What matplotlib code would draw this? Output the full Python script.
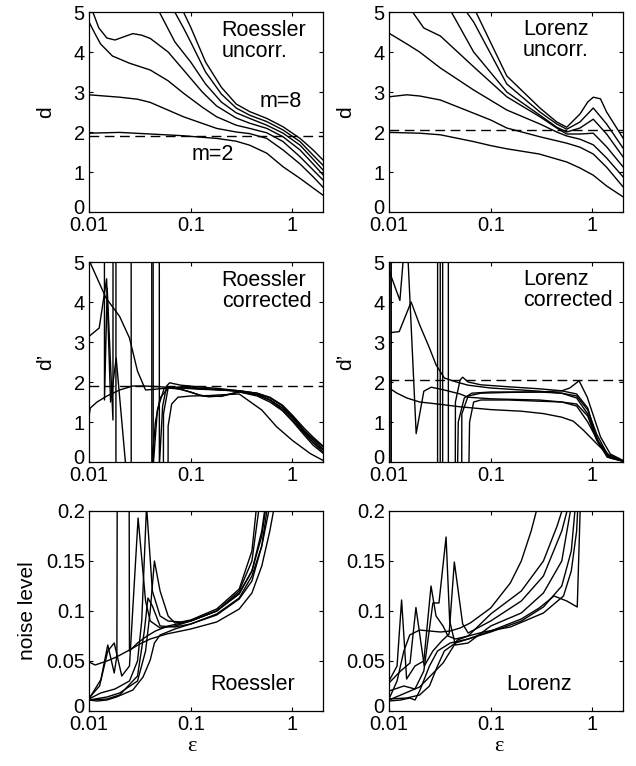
import matplotlib
matplotlib.use("Agg")
import matplotlib.pyplot as plt
from matplotlib.ticker import NullLocator
from matplotlib.transforms import ScaledTranslation

plt.rcParams['font.family'] = ['Liberation Sans', 'DejaVu Sans']

# -----------------------------
# data (eps, value) per curve
# -----------------------------
# Roessler, uncorrected d(eps), m=2..8
ru_m2_x = [0.01, 0.02, 0.04, 0.08, 0.18, 0.28, 0.38, 0.56, 0.81, 1.19, 1.6, 2.0]
ru_m2_y = [1.97, 1.99, 1.95, 1.91, 1.84, 1.77, 1.67, 1.47, 1.13, 0.84, 0.6, 0.42]
ru_m3_x = [0.01, 0.02, 0.03, 0.04, 0.085, 0.18, 0.28, 0.38, 0.56, 0.81, 1.19, 1.6, 2.0]
ru_m3_y = [2.93, 2.87, 2.82, 2.74, 2.38, 2.09, 2.0, 1.96, 1.84, 1.55, 1.2, 0.88, 0.62]
ru_m4_x = [0.01, 0.0115, 0.013, 0.017, 0.025, 0.04, 0.06, 0.085, 0.13, 0.18, 0.28, 0.38, 0.56, 0.81, 1.19, 1.6, 2.0]
ru_m4_y = [4.75, 4.45, 4.2, 3.9, 3.72, 3.55, 3.28, 2.97, 2.62, 2.38, 2.17, 2.09, 1.98, 1.76, 1.38, 1.05, 0.8]
ru_m5_x = [0.0109, 0.0125, 0.015, 0.018, 0.022, 0.027, 0.033, 0.04, 0.06, 0.085, 0.13, 0.18, 0.28, 0.38, 0.56, 0.81, 1.19, 1.6, 2.0]
ru_m5_y = [5.0, 4.6, 4.35, 4.3, 4.38, 4.46, 4.42, 4.34, 4.0, 3.55, 3.0, 2.65, 2.35, 2.22, 2.09, 1.88, 1.55, 1.2, 0.93]
ru_m6_x = [0.048, 0.07, 0.1, 0.14, 0.2, 0.28, 0.38, 0.56, 0.81, 1.19, 1.6, 2.0]
ru_m6_y = [5.05, 4.25, 3.75, 3.2, 2.75, 2.48, 2.34, 2.17, 1.97, 1.67, 1.32, 1.05]
ru_m7_x = [0.068, 0.085, 0.1, 0.14, 0.2, 0.28, 0.38, 0.56, 0.81, 1.19, 1.6, 2.0]
ru_m7_y = [5.05, 4.6, 4.25, 3.5, 2.95, 2.6, 2.42, 2.26, 2.05, 1.76, 1.42, 1.17]
ru_m8_x = [0.083, 0.1, 0.14, 0.2, 0.28, 0.38, 0.56, 0.81, 1.19, 1.6, 2.0]
ru_m8_y = [5.05, 4.62, 3.75, 3.12, 2.7, 2.51, 2.34, 2.13, 1.84, 1.55, 1.3]

# Lorenz, uncorrected d(eps), m=2..8
lu_m2_x = [0.01, 0.02, 0.032, 0.068, 0.1, 0.144, 0.3, 0.56, 0.755, 1.02, 1.38, 2.0]
lu_m2_y = [1.99, 1.97, 1.93, 1.76, 1.66, 1.58, 1.45, 1.25, 1.1, 0.92, 0.65, 0.38]
lu_m3_x = [0.01, 0.015, 0.02, 0.032, 0.068, 0.1, 0.144, 0.305, 0.56, 0.755, 1.02, 1.38, 2.0]
lu_m3_y = [2.88, 2.93, 2.9, 2.8, 2.47, 2.3, 2.1, 1.88, 1.72, 1.62, 1.45, 1.12, 0.63]
lu_m4_x = [0.01, 0.015, 0.02, 0.032, 0.068, 0.144, 0.305, 0.446, 0.56, 0.755, 1.02, 1.38, 2.0]
lu_m4_y = [4.47, 4.2, 4.0, 3.6, 3.05, 2.55, 2.2, 2.0, 1.9, 1.82, 1.68, 1.35, 0.88]
lu_m5_x = [0.0165, 0.022, 0.032, 0.068, 0.144, 0.305, 0.446, 0.56, 0.755, 1.02, 1.38, 2.0]
lu_m5_y = [5.05, 4.6, 4.4, 3.63, 2.88, 2.38, 2.1, 1.95, 1.95, 1.97, 1.63, 1.13]
lu_m6_x = [0.04, 0.068, 0.144, 0.305, 0.446, 0.56, 0.755, 1.02, 1.38, 2.0]
lu_m6_y = [5.05, 4.0, 3.0, 2.42, 2.12, 2.0, 2.1, 2.32, 1.95, 1.38]
lu_m7_x = [0.056, 0.068, 0.144, 0.305, 0.446, 0.56, 0.755, 1.02, 1.38, 2.0]
lu_m7_y = [5.05, 4.75, 3.2, 2.5, 2.2, 2.07, 2.25, 2.6, 2.2, 1.6]
lu_m8_x = [0.07, 0.144, 0.305, 0.446, 0.56, 0.755, 0.9, 1.02, 1.2, 1.38, 2.0]
lu_m8_y = [5.05, 3.4, 2.6, 2.25, 2.12, 2.45, 2.75, 2.87, 2.83, 2.5, 1.85]

# Roessler, corrected d'(eps)  (+-60 = off scale)
rc_1_x = [0.01, 0.0103, 0.012, 0.015, 0.02, 0.027, 0.035, 0.05, 0.08, 0.12, 0.2, 0.3, 0.45, 0.6, 0.8, 1.0, 1.3, 1.6, 2.0]
rc_1_y = [1.15, 1.35, 1.5, 1.65, 1.8, 1.9, 1.9, 1.88, 1.85, 1.82, 1.8, 1.78, 1.7, 1.55, 1.3, 1.05, 0.72, 0.48, 0.25]
rc_2_x = [0.01, 0.0147, 0.02, 0.025, 0.03, 0.036, 0.045, 0.06, 0.09, 0.13, 0.2, 0.3, 0.45, 0.6, 0.8, 1.0, 1.3, 1.6, 2.0]
rc_2_y = [5.05, 4.1, 3.64, 3.1, 2.27, 1.8, 1.82, 1.85, 1.85, 1.83, 1.8, 1.78, 1.72, 1.6, 1.4, 1.15, 0.8, 0.58, 0.38]
rc_3_x = [0.01, 0.0126, 0.0149, 0.0163, 0.0185, 0.0228, 0.0232, 0.05, 0.054, 0.06, 0.08, 0.12, 0.2, 0.3, 0.45, 0.6, 0.8, 1.0, 1.3, 1.6, 2.0]
rc_3_y = [3.14, 3.35, 4.58, 1.5, 2.6, 0.0, -60, -60, 1.2, 1.85, 1.88, 1.85, 1.8, 1.76, 1.68, 1.55, 1.35, 1.1, 0.75, 0.5, 0.3]
rc_4_x = [0.01, 0.0139, 0.0142, 0.0151, 0.0172, 0.0176, 0.0258, 0.0262, 0.056, 0.06, 0.065, 0.075, 0.1, 0.15, 0.2, 0.3, 0.5, 0.7, 1.0, 1.5, 2.0]
rc_4_y = [60, 60, 1.55, 4.35, 1.05, 60, 60, -60, -60, 0.9, 1.45, 1.62, 1.65, 1.66, 1.68, 1.7, 1.3, 0.88, 0.54, 0.21, 0.04]
rc_5_x = [0.01, 0.0183, 0.0185, 0.0405, 0.0415, 0.045, 0.05, 0.06, 0.08, 0.12, 0.15, 0.2, 0.3, 0.45, 0.6, 0.8, 1.0, 1.3, 1.6, 2.0]
rc_5_y = [-60, -60, 60, 60, -0.1, 1.0, 1.6, 1.85, 1.82, 1.68, 1.63, 1.65, 1.75, 1.65, 1.5, 1.28, 1.02, 0.68, 0.42, 0.22]
rc_6_x = [0.01, 0.042, 0.0428, 0.047, 0.055, 0.07, 0.1, 0.13, 0.2, 0.3, 0.45, 0.6, 0.8, 1.0, 1.3, 1.6, 2.0]
rc_6_y = [60, 60, -0.1, 1.3, 1.85, 1.85, 1.75, 1.65, 1.64, 1.76, 1.68, 1.55, 1.35, 1.12, 0.78, 0.55, 0.33]
rc_7_x = [0.01, 0.0485, 0.0492, 0.053, 0.058, 0.062, 0.08, 0.12, 0.2, 0.3, 0.45, 0.6, 0.8, 1.0, 1.3, 1.6, 2.0]
rc_7_y = [60, 60, -0.1, 1.4, 1.9, 1.98, 1.92, 1.88, 1.83, 1.78, 1.72, 1.62, 1.42, 1.17, 0.85, 0.62, 0.4]

# Lorenz, corrected d'(eps)
lc_1_x = [0.01, 0.012, 0.015, 0.02, 0.03, 0.05, 0.1, 0.2, 0.33, 0.5, 0.65, 0.82, 1.1, 1.5, 2.0]
lc_1_y = [1.85, 1.72, 1.6, 1.5, 1.45, 1.38, 1.31, 1.27, 1.21, 1.12, 1.02, 0.79, 0.46, 0.13, 0.03]
lc_2_x = [0.01, 0.0126, 0.0165, 0.02, 0.025, 0.029, 0.035, 0.046, 0.06, 0.1, 0.2, 0.3, 0.5, 0.7, 0.9, 1.15, 1.5, 2.0]
lc_2_y = [3.23, 3.26, 4.0, 3.43, 2.85, 2.43, 2.1, 2.0, 1.92, 1.85, 1.8, 1.77, 1.72, 1.6, 1.2, 0.5, 0.12, 0.02]
lc_3_x = [0.01, 0.0128, 0.0148, 0.0185, 0.022, 0.026, 0.035, 0.05, 0.06, 0.1, 0.2, 0.3, 0.5, 0.7, 0.9, 1.2, 1.5, 2.0]
lc_3_y = [4.79, 4.04, 6.0, 0.71, 1.77, 1.87, 1.8, 1.7, 1.62, 1.58, 1.56, 1.55, 1.5, 1.4, 1.0, 0.4, 0.1, 0.02]
lc_4_x = [0.01, 0.0104, 0.0106, 0.0299, 0.0302, 0.0336, 0.0338, 0.04, 0.045, 0.05, 0.053, 0.06, 0.08, 0.15, 0.3, 0.5, 0.7, 0.9, 1.1, 1.4, 2.0]
lc_4_y = [60, 60, -60, -60, 60, 60, -60, -60, 1.5, 2.05, 2.12, 2.0, 1.93, 1.88, 1.83, 1.78, 1.7, 1.35, 0.6, 0.15, 0.02]
lc_5_x = [0.01, 0.0102, 0.0108, 0.0318, 0.032, 0.0382, 0.0385, 0.048, 0.052, 0.06, 0.08, 0.15, 0.3, 0.5, 0.6, 0.74, 0.89, 1.2, 1.5, 2.0]
lc_5_y = [60, 60, -60, -60, 60, 60, -60, -60, 1.2, 1.65, 1.72, 1.74, 1.75, 1.78, 1.85, 2.03, 1.62, 0.63, 0.2, 0.04]
lc_6_x = [0.01, 0.057, 0.062, 0.068, 0.08, 0.15, 0.3, 0.5, 0.7, 0.9, 1.1, 1.4, 2.0]
lc_6_y = [-60, -5, 1.0, 1.5, 1.55, 1.55, 1.52, 1.5, 1.45, 1.15, 0.55, 0.12, 0.02]
lc_7_x = [0.01, 0.044, 0.048, 0.055, 0.065, 0.1, 0.2, 0.3, 0.5, 0.7, 0.9, 1.1, 1.4, 2.0]
lc_7_y = [-60, -5, 1.0, 1.6, 1.72, 1.75, 1.75, 1.75, 1.72, 1.65, 1.3, 0.7, 0.2, 0.03]

# Roessler, noise level
rn_1_x = [0.01, 0.0115, 0.015, 0.0186, 0.025, 0.0316, 0.04, 0.058, 0.1, 0.18, 0.3, 0.4, 0.5, 0.6, 0.68]
rn_1_y = [0.049, 0.046, 0.05, 0.054, 0.061, 0.067, 0.072, 0.077, 0.082, 0.089, 0.102, 0.118, 0.145, 0.18, 0.21]
rn_2_x = [0.01, 0.012, 0.015, 0.0186, 0.027, 0.034, 0.04, 0.044, 0.05, 0.07, 0.1, 0.18, 0.3, 0.4, 0.5, 0.58]
rn_2_y = [0.011, 0.01, 0.011, 0.014, 0.021, 0.034, 0.051, 0.068, 0.076, 0.082, 0.087, 0.096, 0.112, 0.13, 0.165, 0.21]
rn_3_x = [0.01, 0.0131, 0.0153, 0.0177, 0.0188, 0.0192, 0.0245, 0.025, 0.03, 0.036, 0.045, 0.06, 0.1, 0.18, 0.3, 0.4, 0.5, 0.55]
rn_3_y = [0.012, 0.0315, 0.066, 0.038, 0.055, 0.5, 0.5, 0.06, 0.068, 0.074, 0.08, 0.085, 0.09, 0.1, 0.118, 0.14, 0.18, 0.21]
rn_4_x = [0.01, 0.0127, 0.0153, 0.0177, 0.021, 0.025, 0.0304, 0.036, 0.04, 0.05, 0.07, 0.1, 0.18, 0.3, 0.4, 0.48]
rn_4_y = [0.013, 0.025, 0.06, 0.068, 0.035, 0.045, 0.193, 0.11, 0.09, 0.083, 0.085, 0.09, 0.1, 0.12, 0.15, 0.21]
rn_5_x = [0.01, 0.013, 0.018, 0.025, 0.03, 0.033, 0.0368, 0.042, 0.05, 0.06, 0.08, 0.1, 0.18, 0.3, 0.4, 0.45]
rn_5_y = [0.012, 0.018, 0.022, 0.03, 0.05, 0.09, 0.205, 0.12, 0.095, 0.09, 0.089, 0.091, 0.102, 0.122, 0.16, 0.21]
rn_6_x = [0.01, 0.015, 0.02, 0.03, 0.036, 0.04, 0.044, 0.05, 0.06, 0.07, 0.1, 0.18, 0.3, 0.4, 0.5, 0.56]
rn_6_y = [0.011, 0.014, 0.018, 0.03, 0.06, 0.1, 0.15, 0.12, 0.095, 0.088, 0.09, 0.1, 0.117, 0.14, 0.175, 0.21]
rn_7_x = [0.01, 0.015, 0.02, 0.03, 0.035, 0.038, 0.042, 0.05, 0.07, 0.1, 0.18, 0.3, 0.4, 0.5, 0.6]
rn_7_y = [0.011, 0.012, 0.016, 0.035, 0.08, 0.113, 0.105, 0.085, 0.084, 0.087, 0.097, 0.113, 0.135, 0.165, 0.205]

# Lorenz, noise level
ln_1_x = [0.01, 0.012, 0.014, 0.016, 0.02, 0.025, 0.032, 0.04, 0.05, 0.063, 0.1, 0.156, 0.2, 0.25, 0.29]
ln_1_y = [0.012, 0.03, 0.06, 0.076, 0.081, 0.08, 0.079, 0.08, 0.083, 0.088, 0.103, 0.128, 0.15, 0.18, 0.205]
ln_2_x = [0.01, 0.012, 0.0133, 0.0149, 0.018, 0.022, 0.0259, 0.029, 0.034, 0.038, 0.045, 0.06, 0.1, 0.2, 0.33, 0.45, 0.52]
ln_2_y = [0.03, 0.045, 0.111, 0.032, 0.045, 0.05, 0.125, 0.095, 0.085, 0.075, 0.072, 0.075, 0.097, 0.12, 0.15, 0.185, 0.205]
ln_3_x = [0.01, 0.013, 0.0161, 0.0184, 0.0222, 0.027, 0.033, 0.039, 0.0439, 0.053, 0.06, 0.1, 0.2, 0.33, 0.5, 0.58]
ln_3_y = [0.028, 0.04, 0.048, 0.1035, 0.045, 0.06, 0.07, 0.077, 0.149, 0.087, 0.078, 0.09, 0.11, 0.135, 0.18, 0.205]
ln_4_x = [0.01, 0.013, 0.016, 0.018, 0.02, 0.025, 0.03, 0.04, 0.06, 0.1, 0.2, 0.3, 0.42, 0.56, 0.71, 0.76]
ln_4_y = [0.01, 0.011, 0.013, 0.011, 0.02, 0.045, 0.06, 0.068, 0.072, 0.08, 0.092, 0.103, 0.115, 0.11, 0.104, 0.205]
ln_5_x = [0.01, 0.014, 0.018, 0.022, 0.027, 0.031, 0.0364, 0.0395, 0.045, 0.06, 0.1, 0.2, 0.33, 0.5, 0.62]
ln_5_y = [0.02, 0.025, 0.022, 0.04, 0.108, 0.108, 0.174, 0.09, 0.066, 0.068, 0.085, 0.098, 0.118, 0.15, 0.205]
ln_6_x = [0.01, 0.015, 0.02, 0.025, 0.03, 0.035, 0.045, 0.06, 0.1, 0.2, 0.33, 0.5, 0.62, 0.68]
ln_6_y = [0.012, 0.013, 0.016, 0.025, 0.045, 0.06, 0.068, 0.072, 0.079, 0.09, 0.104, 0.125, 0.16, 0.205]
ln_7_x = [0.01, 0.02, 0.034, 0.047, 0.06, 0.085, 0.156, 0.33, 0.52, 0.62, 0.7, 0.72]
ln_7_y = [0.011, 0.024, 0.048, 0.071, 0.075, 0.079, 0.084, 0.098, 0.115, 0.14, 0.18, 0.205]

roessler_dim = 1.9
lorenz_dim = 2.05

x_ticks = [0.01, 0.1, 1]
x_ticklabels = ["0.01", "0.1", "1"]
d_ticks = [0, 1, 2, 3, 4, 5]
noise_ticks = [0, 0.05, 0.1, 0.15, 0.2]
noise_ticklabels = ["0", "0.05", "0.1", "0.15", "0.2"]

panels = [
    # (curves, dashed level, ylabel, text, text pos)
    ([(ru_m2_x, ru_m2_y), (ru_m3_x, ru_m3_y), (ru_m4_x, ru_m4_y), (ru_m5_x, ru_m5_y),
      (ru_m6_x, ru_m6_y), (ru_m7_x, ru_m7_y), (ru_m8_x, ru_m8_y)],
     roessler_dim, "d", "Roessler\nuncorr.", (0.567, 0.96)),
    ([(lu_m2_x, lu_m2_y), (lu_m3_x, lu_m3_y), (lu_m4_x, lu_m4_y), (lu_m5_x, lu_m5_y),
      (lu_m6_x, lu_m6_y), (lu_m7_x, lu_m7_y), (lu_m8_x, lu_m8_y)],
     lorenz_dim, "d", "Lorenz\nuncorr.", (0.573, 0.965)),
    ([(rc_1_x, rc_1_y), (rc_2_x, rc_2_y), (rc_3_x, rc_3_y), (rc_4_x, rc_4_y),
      (rc_5_x, rc_5_y), (rc_6_x, rc_6_y), (rc_7_x, rc_7_y)],
     roessler_dim, "d\u2019", "Roessler\ncorrected", (0.567, 0.96)),
    ([(lc_1_x, lc_1_y), (lc_2_x, lc_2_y), (lc_3_x, lc_3_y), (lc_4_x, lc_4_y),
      (lc_5_x, lc_5_y), (lc_6_x, lc_6_y), (lc_7_x, lc_7_y)],
     lorenz_dim, "d\u2019", "Lorenz\ncorrected", (0.573, 0.965)),
    ([(rn_1_x, rn_1_y), (rn_2_x, rn_2_y), (rn_3_x, rn_3_y), (rn_4_x, rn_4_y),
      (rn_5_x, rn_5_y), (rn_6_x, rn_6_y), (rn_7_x, rn_7_y)],
     None, "noise level", "Roessler", (0.517, 0.105)),
    ([(ln_1_x, ln_1_y), (ln_2_x, ln_2_y), (ln_3_x, ln_3_y), (ln_4_x, ln_4_y),
      (ln_5_x, ln_5_y), (ln_6_x, ln_6_y), (ln_7_x, ln_7_y)],
     None, None, "Lorenz", (0.503, 0.105)),
]

TICK_FS = 14.5
LABEL_FS = 15.5

fig = plt.figure(figsize=(6.36, 7.66), dpi=100)

col_left = [89 / 636, 389 / 636]
width = 234 / 636
row_bottom = [(766 - 212) / 766, (766 - 462) / 766, (766 - 711) / 766]
height = 200 / 766

# nudge the "0" y tick label up a little, like the original
zero_shift = ScaledTranslation(0, 4 / 72, fig.dpi_scale_trans)

for i, (curves, level, ylab, label, pos) in enumerate(panels):
    row, col = divmod(i, 2)
    ax = fig.add_axes([col_left[col], row_bottom[row], width, height])
    for cx, cy in curves:
        ax.plot(cx, cy, color="black", lw=1.0)
    if level is not None:
        ax.axhline(level, color="black", lw=1.0, dashes=(7, 4))

    ax.set_xscale("log")
    ax.set_xlim(0.01, 2)
    ax.set_xticks(x_ticks)
    ax.set_xticklabels(x_ticklabels)
    ax.xaxis.set_minor_locator(NullLocator())

    if row < 2:
        ax.set_ylim(0, 5)
        ax.set_yticks(d_ticks)
    else:
        ax.set_ylim(0, 0.2)
        ax.set_yticks(noise_ticks)
        ax.set_yticklabels(noise_ticklabels)

    ax.tick_params(direction="in", top=True, right=True, length=3, width=0.8,
                   labelsize=TICK_FS, pad=3)
    ax.tick_params(axis="x", pad=3)
    for sp in ax.spines.values():
        sp.set_linewidth(0.9)

    lab0 = ax.get_yticklabels()[0]
    lab0.set_transform(lab0.get_transform() + zero_shift)

    if ylab is not None:
        ax.set_ylabel(ylab, fontsize=15)
        ax.yaxis.set_label_coords(-0.222 if row == 2 else -0.145, 0.5)

    if row < 2:
        ax.text(pos[0], pos[1], label, transform=ax.transAxes, fontsize=LABEL_FS,
                ha="left", va="top", linespacing=1.0)
    else:
        ax.text(pos[0], pos[1], label, transform=ax.transAxes, fontsize=LABEL_FS,
                ha="left", va="baseline")
        ax.set_xlabel("\u03b5", fontsize=16, family=["Liberation Serif", "DejaVu Serif"])
        ax.xaxis.set_label_coords(0.44 if col == 0 else 0.47, -0.13)

    if i == 0:
        ax.text(0.731, 0.525, "m=8", transform=ax.transAxes, fontsize=LABEL_FS, va="baseline")
        ax.text(0.44, 0.26, "m=2", transform=ax.transAxes, fontsize=LABEL_FS, va="baseline")

fig.savefig("out.png", dpi=100)
